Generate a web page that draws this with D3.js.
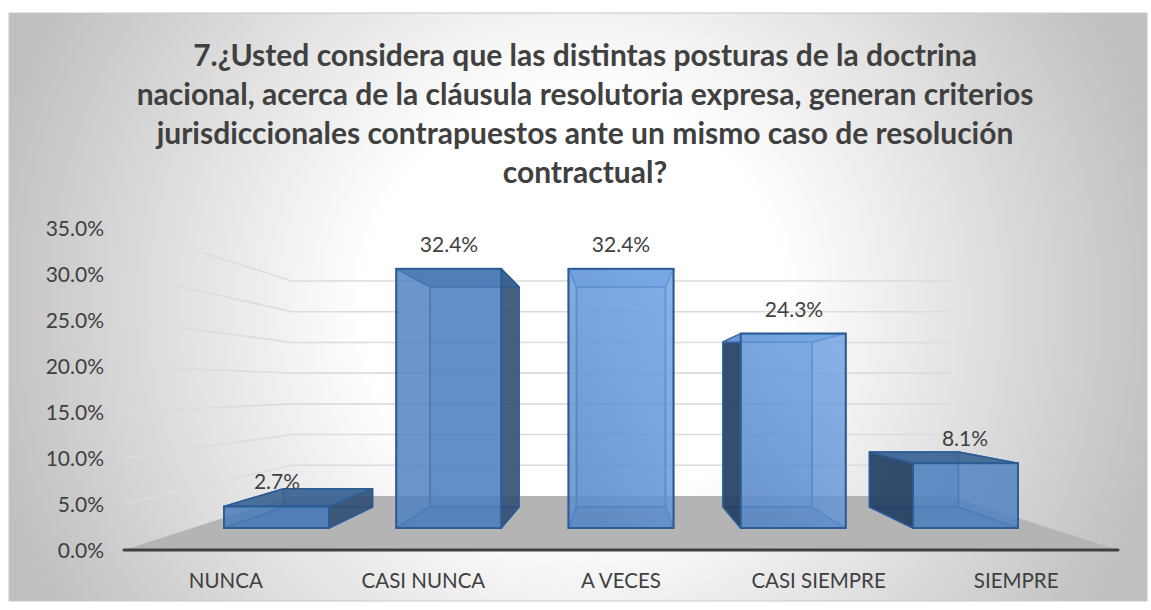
<!DOCTYPE html>
<html><head><meta charset="utf-8">
<script src="https://cdn.jsdelivr.net/npm/d3@7"></script>
<style>html,body{margin:0;padding:0;background:#fff}svg{display:block}text{font-family:Lato,"Open Sans",sans-serif}</style>
</head><body><svg id="c" width="1151" height="610"></svg>
<script>
const categories=["NUNCA","CASI NUNCA","A VECES","CASI SIEMPRE","SIEMPRE"];
const values=[2.7,32.4,32.4,24.3,8.1];
const ticks=[0,5,10,15,20,25,30,35];
const titleLines=["7.¿Usted considera que las distintas posturas de la doctrina","nacional, acerca de la cláusula resolutoria expresa, generan criterios","jurisdiccionales contrapuestos ante un mismo caso de resolución","contractual?"];

const svg=d3.select("#c");
const defs=svg.append("defs");
const bg=defs.append("radialGradient").attr("id","bg").attr("gradientUnits","userSpaceOnUse")
 .attr("cx",575).attr("cy",305).attr("r",600);
bg.append("stop").attr("offset",0.35).attr("stop-color","#ffffff");
bg.append("stop").attr("offset",1).attr("stop-color","#c0c0c0");

const lightGrad=defs.append("linearGradient").attr("id","barLight").attr("x1",1).attr("y1",0).attr("x2",0.3).attr("y2",1);
lightGrad.append("stop").attr("offset",0).attr("stop-color","#74a6e6");
lightGrad.append("stop").attr("offset",1).attr("stop-color","#5a8ac8");

svg.append("rect").attr("x",9).attr("y",13).attr("width",1138).attr("height",588)
 .attr("fill","url(#bg)").attr("stroke","#c8c8c8").attr("stroke-width",1);

const yAxis=d3.scaleLinear().domain([0,35]).range([550,228]);
const yWall=d3.scaleLinear().domain([0,35]).range([496,281]);
const yFront=d3.scaleLinear().domain([0,35]).range([528,248]);
const yBack=d3.scaleLinear().domain([0,35]).range([507,269.3]);
const xLabel=d3.scaleBand().domain(categories).range([127,1115]);
const xFront=d3.scaleBand().domain(categories).range([190.4,1051.6]);
const xBack=d3.scaleBand().domain(categories).range([254.8,987.2]);
const wF=105,wB=89;
const xL=124,xWL=292,xWR=950,xR=1118;

svg.append("polygon").attr("fill","#b4b4b4")
 .attr("points",[[xL,yAxis(0)],[xWL,yWall(0)],[xWR,yWall(0)],[xR,yAxis(0)]].join(" "));

svg.append("g").selectAll("polyline").data(ticks.slice(1)).join("polyline")
 .attr("fill","none").attr("stroke","#dcdcdc").attr("stroke-width",1.6)
 .attr("points",d=>[[xL,yAxis(d)],[xWL,yWall(d)],[xWR,yWall(d)]].join(" "));

svg.append("line").attr("x1",xL).attr("x2",xR).attr("y1",yAxis(0)).attr("y2",yAxis(0))
 .attr("stroke","#404040").attr("stroke-width",3).attr("stroke-linecap","round");

svg.append("g").selectAll("text").data(ticks).join("text")
 .attr("x",104).attr("y",d=>yAxis(d)+7.5).attr("text-anchor","end")
 .attr("font-size",21).attr("fill","#404040").text(d=>d.toFixed(1)+"%");

svg.append("g").selectAll("text").data(categories).join("text")
 .attr("x",d=>xLabel(d)+xLabel.bandwidth()/2)
 .attr("y",588).attr("text-anchor","middle")
 .attr("font-size",20.5).attr("fill","#404040").text(d=>d);

svg.append("g").selectAll("text").data(titleLines).join("text")
 .attr("x",585).attr("y",(d,i)=>66+i*39).attr("text-anchor","middle")
 .attr("font-size",30).attr("font-weight",700).attr("fill","#404040").text(d=>d);

const edge="#2c5c95", inner="#3f72b0";
const frontFill=["#4879b7","#4e80be","url(#barLight)","url(#barLight)","#5082c1"];
const backFill=["#4879b7","#4e80be","#6a9ad8","#6798d7","#5082c1"];
svg.append("g").selectAll("g").data(categories).join("g").each(function(c,i){
 const v=values[i], s=d3.select(this);
 const fx0=xFront(c)+xFront.bandwidth()/2-wF/2, fx1=fx0+wF;
 const bx0=xBack(c)+xBack.bandwidth()/2-wB/2, bx1=bx0+wB;
 const ft=yFront(v), fb=yFront(0), bt=yBack(v), bb=yBack(0);
 const face=(pts,fill,op,st)=>s.append("polygon").attr("points",pts.join(" ")).attr("fill",fill).attr("fill-opacity",op)
   .attr("stroke",st||inner).attr("stroke-width",1.5).attr("stroke-linejoin","round");
 face([[bx0,bt],[bx1,bt],[bx1,bb],[bx0,bb]],backFill[i],.55);
 face([[fx0,fb],[fx1,fb],[bx1,bb],[bx0,bb]],"#3f6ea8",.55);
 const lx=[[fx0,ft],[bx0,bt],[bx0,bb],[fx0,fb]], rx=[[fx1,ft],[bx1,bt],[bx1,bb],[fx1,fb]];
 if(bx0<fx0) face(lx,"#243e5e",.88,edge); else face(lx,backFill[i],.35);
 if(bx1>fx1) face(rx,"#2f4a6c",.8,edge); else face(rx,backFill[i],.35);
 face([[fx0,ft],[fx1,ft],[bx1,bt],[bx0,bt]], i==2||i==3?"#74a6e6":"#38618f",.85,i==2||i==3?inner:edge);
 s.append("rect").attr("x",fx0).attr("y",ft).attr("width",wF).attr("height",fb-ft)
  .attr("fill",frontFill[i]).attr("fill-opacity",.74).attr("stroke",edge).attr("stroke-width",2);
});

const labX=[277,449,621,794,965], labY=[489,252,252,317,446];
svg.append("g").selectAll("text").data(values).join("text")
 .attr("x",(d,i)=>labX[i]).attr("y",(d,i)=>labY[i]).attr("text-anchor","middle")
 .attr("font-size",21).attr("fill","#404040").text(d=>d.toFixed(1)+"%");
</script></body></html>
